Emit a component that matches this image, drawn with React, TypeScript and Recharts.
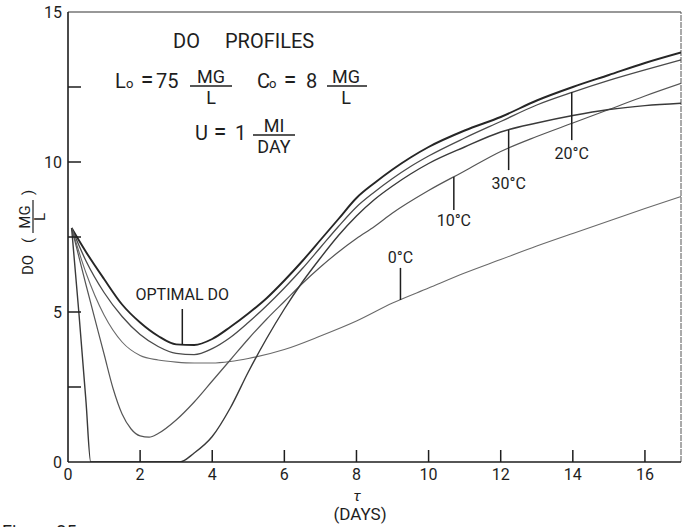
import React from "react";
import { LineChart, Line, XAxis, YAxis, ReferenceLine } from "recharts";

const INK = "#1e1e1e";
const FONT = "Roboto, 'Liberation Sans', Arial, sans-serif";

// axis ticks
const xTicks = [0, 2, 4, 6, 8, 10, 12, 14, 16];
const yTicks = [0, 2.5, 5, 7.5, 10, 12.5, 15];

// DO profiles, [tau (days), DO (mg/l)]
const optimalDo = [
  [0.1, 7.8], [0.5, 7.0], [1, 6.1], [1.5, 5.25], [2, 4.65], [2.5, 4.2], [3, 3.92], [3.5, 3.9],
  [4, 4.1], [4.5, 4.5], [5, 4.95], [5.5, 5.45], [6, 6.05], [6.5, 6.7], [7, 7.4], [7.5, 8.1],
  [8, 8.8], [8.5, 9.3], [9, 9.75], [9.5, 10.15], [10, 10.5], [11, 11.05], [12, 11.5],
  [13, 12.05], [14, 12.5], [15, 12.9], [16, 13.3], [17, 13.65],
];
const do20 = [
  [0.1, 7.8], [0.5, 6.7], [1, 5.65], [1.5, 4.85], [2, 4.25], [2.5, 3.85], [3, 3.62], [3.5, 3.58],
  [4, 3.78], [4.5, 4.15], [5, 4.65], [5.5, 5.2], [6, 5.8], [6.5, 6.45], [7, 7.15], [7.5, 7.85],
  [8, 8.5], [8.5, 9.0], [9, 9.45], [9.5, 9.85], [10, 10.2], [11, 10.8], [12, 11.35],
  [13, 11.9], [14, 12.33], [15, 12.72], [16, 13.07], [17, 13.4],
];
const do0 = [
  [0.1, 7.8], [0.5, 6.3], [1, 4.9], [1.5, 4.0], [2, 3.55], [2.5, 3.4], [3, 3.33], [3.5, 3.3],
  [4, 3.3], [4.5, 3.35], [5, 3.45], [6, 3.75], [7, 4.2], [8, 4.7], [9, 5.3], [10, 5.8],
  [11, 6.3], [12, 6.75], [13, 7.2], [14, 7.62], [15, 8.03], [16, 8.45], [17, 8.85],
];
const do10 = [
  [0.1, 7.8], [0.5, 5.9], [1, 3.6], [1.25, 2.45], [1.5, 1.6], [1.75, 1.1], [2, 0.87],
  [2.25, 0.83], [2.5, 0.95], [3, 1.4], [3.5, 2.0], [4, 2.7], [4.5, 3.4], [5, 4.1], [5.5, 4.75],
  [6, 5.35], [6.5, 5.95], [7, 6.5], [7.5, 7.0], [8, 7.45], [8.5, 7.85], [9, 8.3], [10, 9.05],
  [11, 9.7], [12, 10.35], [13, 10.85], [14, 11.3], [15, 11.75], [16, 12.2], [17, 12.62],
];
const do30 = [
  [0.1, 7.8], [0.3, 5.0], [0.5, 2.0], [0.63, 0], [1.5, 0], [2.5, 0], [3.1, 0], [3.5, 0.3],
  [4, 0.85], [4.5, 1.8], [5, 3.0], [5.5, 4.1], [6, 5.1], [6.5, 6.0], [7, 6.8], [7.5, 7.55],
  [8, 8.2], [8.5, 8.75], [9, 9.2], [9.5, 9.6], [10, 9.95], [11, 10.5], [12, 11.0], [13, 11.3],
  [14, 11.55], [15, 11.75], [16, 11.88], [17, 11.96],
];

// pointer labels: text, tau, DO at the curve, DO at the label end
const pointers = [
  { text: "OPTIMAL  DO", x: 3.17, y1: 3.9, y2: 5.1, pos: "top", offset: 9 },
  { text: "0°C", x: 9.22, y1: 5.4, y2: 6.47, pos: "top", offset: 5 },
  { text: "10°C", x: 10.7, y1: 9.5, y2: 8.4, pos: "bottom", offset: 5 },
  { text: "30°C", x: 12.22, y1: 11.07, y2: 9.73, pos: "bottom", offset: 8 },
  { text: "20°C", x: 13.97, y1: 12.33, y2: 10.73, pos: "bottom", offset: 8 },
];

const toPts = (arr: number[][]) => arr.map(([x, y]) => ({ x, y }));

const series = [
  { name: "optimal", data: toPts(optimalDo), stroke: "#262626", width: 1.9 },
  { name: "20C", data: toPts(do20), stroke: "#4a4a4a", width: 1.3 },
  { name: "0C", data: toPts(do0), stroke: "#6a6a6a", width: 1.1 },
  { name: "10C", data: toPts(do10), stroke: "#555", width: 1.2 },
  { name: "30C", data: toPts(do30), stroke: "#3a3a3a", width: 1.4 },
];

const XTick = (props: any) => {
  const { x, y, payload } = props;
  return (
    <g>
      {payload.value > 0 && (
        <line x1={x} x2={x} y1={y} y2={y - 12} stroke={INK} strokeWidth={1.5} />
      )}
      <text x={x} y={y + 18} textAnchor="middle" fontSize={16} fontFamily={FONT} fill={INK}>
        {payload.value}
      </text>
    </g>
  );
};

const YTick = (props: any) => {
  const { x, y, payload } = props;
  const v = payload.value;
  return (
    <g>
      {v > 0 && v < 15 && (
        <line x1={x} x2={x + 13} y1={y} y2={y} stroke={INK} strokeWidth={1.5} />
      )}
      {v % 5 === 0 && (
        <text x={x - 6} y={y + 6} textAnchor="end" fontSize={16} fontFamily={FONT} fill={INK}>
          {v}
        </text>
      )}
    </g>
  );
};

// stacked fraction
const Frac = ({ cx, lineY, x1, x2, top, bottom }: any) => (
  <g fontSize={18}>
    <text x={cx} y={lineY - 3.5} textAnchor="middle">{top}</text>
    <line x1={x1} x2={x2} y1={lineY} y2={lineY} stroke={INK} strokeWidth={1.3} />
    <text x={cx} y={lineY + 18} textAnchor="middle">{bottom}</text>
  </g>
);

const Notes = () => (
  <svg
    width={687}
    height={527}
    style={{ position: "absolute", left: 0, top: 0, pointerEvents: "none" }}
  >
    <g fontFamily={FONT} fill={INK} fontSize={20}>
      <text x={173} y={48}>DO</text>
      <text x={225} y={48}>PROFILES</text>

      <text x={115} y={88}>L</text>
      <text x={126} y={88} fontSize={13}>o</text>
      <text x={147} y={88} textAnchor="middle" fontSize={23}>=</text>
      <text x={156} y={88}>75</text>
      <Frac cx={211} lineY={86} x1={190} x2={232} top="MG" bottom="L" />

      <text x={257} y={88}>C</text>
      <text x={269} y={88} fontSize={13}>o</text>
      <text x={290} y={88} textAnchor="middle" fontSize={23}>=</text>
      <text x={306} y={88}>8</text>
      <Frac cx={346} lineY={86} x1={327} x2={367} top="MG" bottom="L" />

      <text x={195} y={140}>U</text>
      <text x={220} y={140} textAnchor="middle" fontSize={23}>=</text>
      <text x={235} y={140}>1</text>
      <Frac cx={274} lineY={135} x1={253} x2={295} top="MI" bottom="DAY" />
    </g>

    {/* y axis title, rotated */}
    <g transform="translate(33,231) rotate(-90)" fontFamily={FONT} fill={INK} fontSize={15}>
      <text x={-44} y={0}>DO</text>
      <text x={-12} y={0}>(</text>
      <text textAnchor="middle">
        <tspan x={14} y={-3}>MG</tspan>
        <tspan x={14} y={12}>L</tspan>
      </text>
      <line x1={-2} x2={31} y1={0} y2={0} stroke={INK} strokeWidth={1.2} />
      <text x={36} y={0}>)</text>
    </g>

    {/* x axis title */}
    <text textAnchor="middle" fontFamily={FONT} fill={INK}>
      <tspan x={357} y={501} fontSize={15} fontStyle="italic">τ</tspan>
      <tspan x={360} y={520} fontSize={17}>(DAYS)</tspan>
    </text>

    <text x={2} y={538} fontSize={18} fontFamily={FONT} fill={INK}>
      Figure 25
    </text>
  </svg>
);

export default function App() {
  return (
    <div style={{ position: "absolute", left: 0, top: 0, width: 687, height: 527, background: "#fff" }}>
      <LineChart width={687} height={527} margin={{ top: 12, right: 6, bottom: 0, left: 0 }}>
        <XAxis
          type="number"
          dataKey="x"
          domain={[0, 17]}
          ticks={xTicks}
          interval={0}
          allowDataOverflow
          tickLine={false}
          tickSize={0}
          tickMargin={0}
          height={65}
          axisLine={{ stroke: INK, strokeWidth: 1.6 }}
          tick={XTick}
        />
        <YAxis
          type="number"
          dataKey="y"
          domain={[0, 15]}
          ticks={yTicks}
          interval={0}
          allowDataOverflow
          tickLine={false}
          tickSize={0}
          tickMargin={0}
          width={68}
          axisLine={{ stroke: INK, strokeWidth: 1.6 }}
          tick={YTick}
        />
        <ReferenceLine y={15} stroke="#333" strokeWidth={1.2} />
        <ReferenceLine x={17} stroke="#555" strokeWidth={1} strokeDasharray="6 1" />

        {series.map((s) => (
          <Line
            key={s.name}
            data={s.data}
            dataKey="y"
            type="monotone"
            stroke={s.stroke}
            strokeWidth={s.width}
            dot={false}
            activeDot={false}
            isAnimationActive={false}
          />
        ))}

        {pointers.map((p) => (
          <ReferenceLine
            key={p.text}
            segment={[{ x: p.x, y: p.y1 }, { x: p.x, y: p.y2 }]}
            stroke={INK}
            strokeWidth={1.5}
            label={{
              value: p.text,
              position: p.pos,
              offset: p.offset,
              fill: INK,
              fontSize: 16,
              fontFamily: FONT,
            }}
          />
        ))}
      </LineChart>
      <Notes />
    </div>
  );
}
